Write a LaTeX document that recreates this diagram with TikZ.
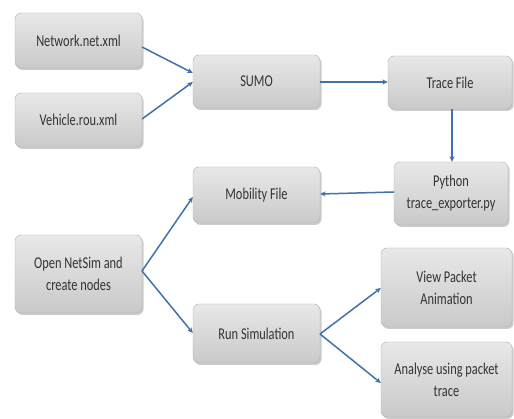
\documentclass[tikz,border=0pt]{standalone}
\usepackage{fontspec}
\setmainfont{Carlito}[FakeStretch=0.75]
\usetikzlibrary{shadows,arrows.meta}
\definecolor{arrowblue}{HTML}{3F72AA}
\tikzset{
  box/.style={draw=gray!60, line width=0.4pt, rounded corners=6pt,
    top color=gray!18, bottom color=gray!42, text=black!80,
    drop shadow={shadow xshift=1.5pt, shadow yshift=-2pt, opacity=0.4},
    align=center, font=\fontsize{16.5}{22}\selectfont, inner sep=0pt},
  conn/.style={draw=arrowblue, line width=1.5pt, -{Stealth[length=5.5pt,width=5pt]}}
}
\begin{document}
\begin{tikzpicture}[x=1pt,y=-1pt]
\useasboundingbox (0,0) rectangle (514,419);
\fill[white] (0,0) rectangle (514,419);
\newcommand\mkbox[6]{\node[box, minimum width=#4-#2, minimum height=#5-#3] (#1) at ({(#2+#4)/2},{(#3+#5)/2}) {#6};}
\mkbox{net}{15}{13}{142}{68}{Network.net.xml}
\mkbox{veh}{15}{93}{142}{147}{Vehicle.rou.xml}
\mkbox{sumo}{193}{55}{320}{108}{SUMO}
\mkbox{trace}{388}{56}{512}{109}{Trace File}
\mkbox{py}{394}{162}{508}{225}{Python\\trace\_exporter.py}
\mkbox{mob}{193}{167}{320}{223}{Mobility File}
\mkbox{open}{15}{235}{142}{313}{Open NetSim and\\create nodes}
\mkbox{run}{193}{304}{320}{363}{Run Simulation}
\mkbox{view}{381}{248}{512}{327}{View Packet\\Animation}
\mkbox{ana}{381}{342}{512}{417}{Analyse using packet\\trace}
\coordinate (netA) at (142,47);
\coordinate (vehA) at (142,119);
\coordinate (openA) at (142,271);
\coordinate (runA) at (320,334);
\draw[conn] (netA) -- (sumo.west |- 0,73);
\draw[conn] (vehA) -- (sumo.west |- 0,82);
\draw[conn] (sumo.east |- 0,82) -- (trace.west |- 0,82);
\draw[conn] (trace.south -| 452,0) -- (py.north -| 452,0);
\draw[conn] (py.west |- 0,192) -- (mob.east |- 0,194);
\draw[conn] (openA) -- (mob.west |- 0,197);
\draw[conn] (openA) -- (run.west |- 0,333);
\draw[conn] (runA) -- (view.west |- 0,288);
\draw[conn] (runA) -- (ana.west |- 0,383);
\end{tikzpicture}
\end{document}
